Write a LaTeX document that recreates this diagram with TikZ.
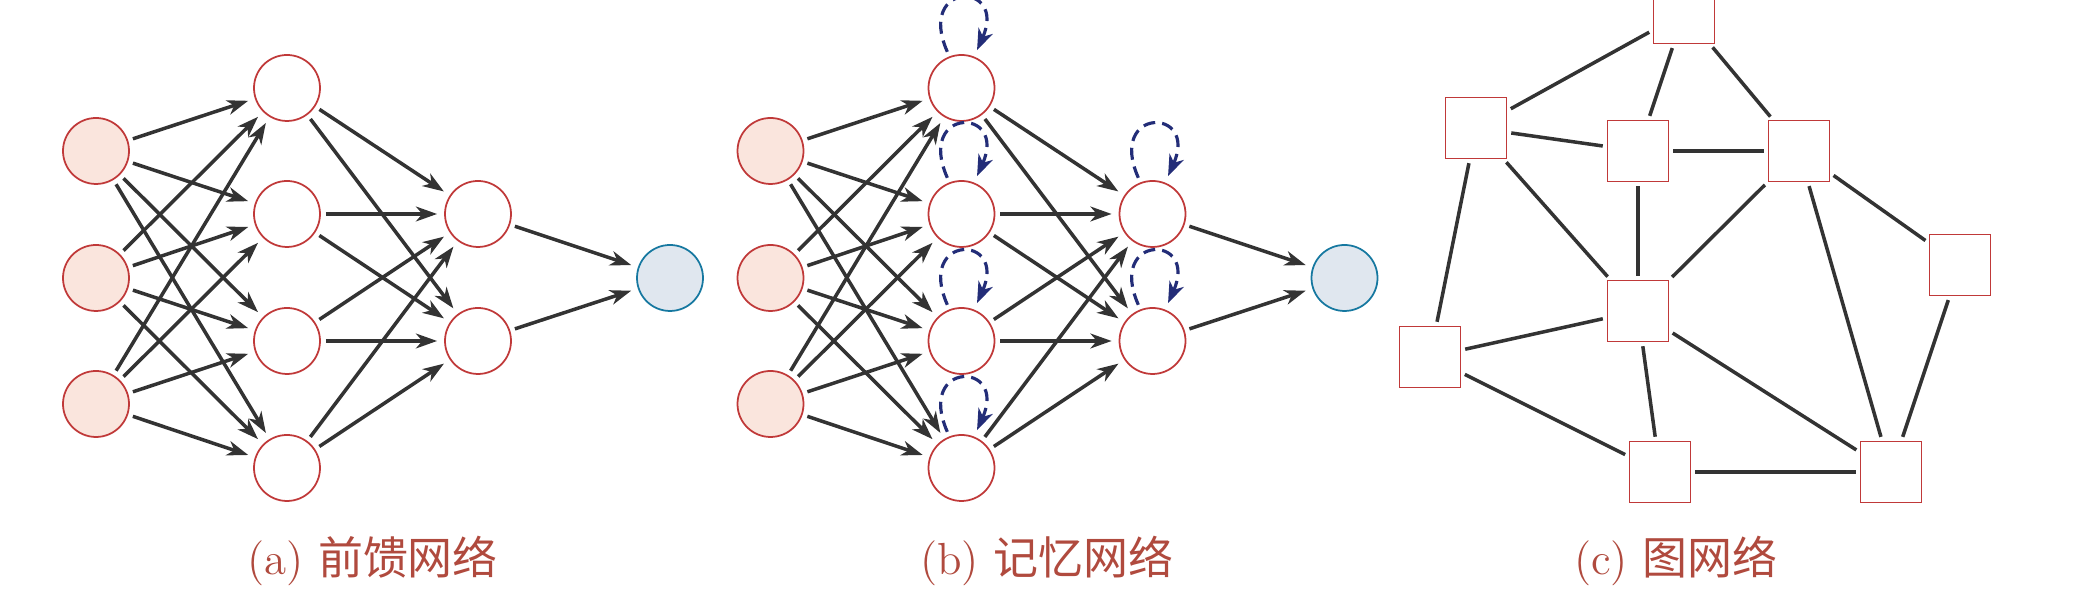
\documentclass[tikz,border=0pt]{standalone}
\usepackage{fontspec}
\newfontfamily\cjk{Noto Sans CJK SC}
\usepackage{tikz}
\usetikzlibrary{arrows.meta, positioning, calc}

\definecolor{nodered}{RGB}{192,57,57}
\definecolor{infill}{RGB}{250,229,221}
\definecolor{outfill}{RGB}{224,231,239}
\definecolor{outblue}{RGB}{22,120,160}
\definecolor{edgegray}{RGB}{51,51,51}
\definecolor{loopblue}{RGB}{35,45,120}
\definecolor{captred}{RGB}{176,74,62}

\tikzset{
  neuron/.style={circle, draw=nodered, line width=0.5pt, fill=white, minimum size=0.66cm, inner sep=0pt},
  inneuron/.style={neuron, fill=infill},
  outneuron/.style={neuron, draw=outblue, fill=outfill},
  gnode/.style={rectangle, draw=nodered, line width=0.45pt, fill=white, minimum size=0.61cm, inner sep=0pt},
  conn/.style={edgegray, line width=1pt, -{Stealth[length=6pt, width=4.2pt, inset=1.8pt]}, shorten <=0.05cm, shorten >=0.07cm},
  gedge/.style={edgegray, line width=1pt, shorten <=0.04cm, shorten >=0.04cm},
  selfloop/.style={loopblue, line width=0.9pt, dash pattern=on 0.12cm off 0.07cm, -{Stealth[length=6pt, width=4.4pt, inset=1.8pt]}, shorten <=0.05cm, shorten >=0.07cm},
  caption/.style={text=captred, font=\fontsize{12.8}{15}\selectfont}
}

\begin{document}
\begin{tikzpicture}
    \useasboundingbox (0,0) rectangle (20.92,6.10);

    % (a) Feedforward network
    \begin{scope}
        \foreach \i/\y in {1/4.59, 2/3.32, 3/2.06}
            \node[inneuron] (aI\i) at (0.96,\y) {};
        \foreach \i/\y in {1/5.22, 2/3.96, 3/2.69, 4/1.42}
            \node[neuron] (aH\i) at (2.87,\y) {};
        \foreach \i/\y in {1/3.96, 2/2.69}
            \node[neuron] (aG\i) at (4.78,\y) {};
        \node[outneuron] (aO) at (6.70,3.32) {};

        % Fully connected layers
        \foreach \i in {1,2,3}
            \foreach \j in {1,...,4}
                \draw[conn] (aI\i) -- (aH\j);
        \foreach \i in {1,...,4}
            \foreach \j in {1,2}
                \draw[conn] (aH\i) -- (aG\j);
        \foreach \j in {1,2}
            \draw[conn] (aG\j) -- (aO);

        \node[caption] (capa) at (3.725,0.49) {(a) {\cjk 前馈网络}};
    \end{scope}

    % (b) Memory network (same layers, shifted right)
    \begin{scope}[xshift=6.745cm]
        \foreach \i/\y in {1/4.59, 2/3.32, 3/2.06}
            \node[inneuron] (bI\i) at (0.96,\y) {};
        \foreach \i/\y in {1/5.22, 2/3.96, 3/2.69, 4/1.42}
            \node[neuron] (bH\i) at (2.87,\y) {};
        \foreach \i/\y in {1/3.96, 2/2.69}
            \node[neuron] (bG\i) at (4.78,\y) {};
        \node[outneuron] (bO) at (6.70,3.32) {};

        \foreach \i in {1,2,3}
            \foreach \j in {1,...,4}
                \draw[conn] (bI\i) -- (bH\j);
        \foreach \i in {1,...,4}
            \foreach \j in {1,2}
                \draw[conn] (bH\i) -- (bG\j);
        \foreach \j in {1,2}
            \draw[conn] (bG\j) -- (bO);

        % Self loops on hidden units
        \foreach \i in {1,...,4}
            \draw[selfloop] (bH\i.111) .. controls +(114:0.83) and +(66:0.83) .. (bH\i.68);
        \foreach \i in {1,2}
            \draw[selfloop] (bG\i.111) .. controls +(114:0.83) and +(66:0.83) .. (bG\i.68);

        \node[caption] (capb) at (3.725,0.49) {(b) {\cjk 记忆网络}};
    \end{scope}

    % (c) Graph network
    \node[gnode] (g1) at (16.84,5.97) {};
    \node[gnode] (g2) at (14.76,4.82) {};
    \node[gnode] (g3) at (16.38,4.59) {};
    \node[gnode] (g4) at (17.99,4.59) {};
    \node[gnode] (g5) at (19.60,3.45) {};
    \node[gnode] (g6) at (16.38,2.99) {};
    \node[gnode] (g7) at (14.30,2.53) {};
    \node[gnode] (g8) at (16.60,1.38) {};
    \node[gnode] (g9) at (18.91,1.38) {};

    \foreach \u/\v in {1/2, 1/3, 1/4, 2/3, 3/4, 2/6, 2/7, 3/6, 4/6,
                       4/5, 4/9, 5/9, 6/7, 6/8, 6/9, 7/8, 8/9}
        \draw[gedge] (g\u) -- (g\v);

    \node[caption] (capc) at (16.76,0.49) {(c) {\cjk 图网络}};
\end{tikzpicture}
\end{document}
